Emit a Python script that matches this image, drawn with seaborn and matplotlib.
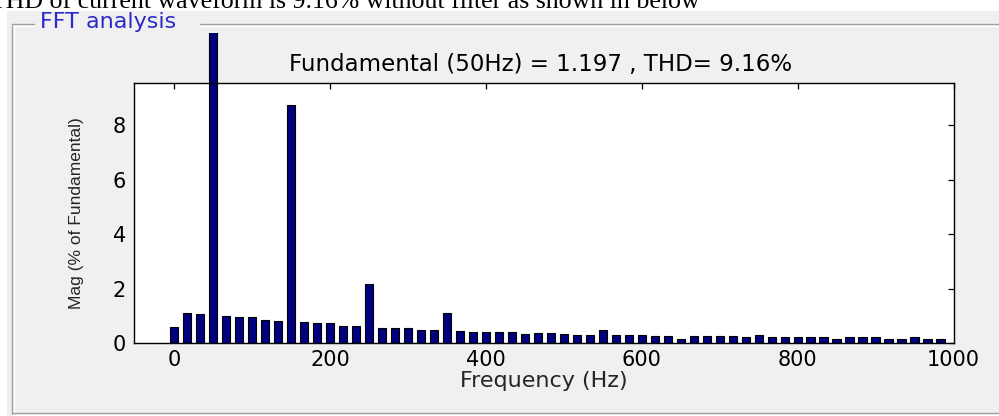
import matplotlib
matplotlib.use("Agg")
import matplotlib.pyplot as plt
from matplotlib.patches import Rectangle
from matplotlib.lines import Line2D
import seaborn as sns
import pandas as pd

# ---- data ----
freq_hz = [0, 16.67, 33.33, 50, 66.67, 83.33, 100, 116.67, 133.33, 150,
           166.67, 183.33, 200, 216.67, 233.33, 250, 266.67, 283.33, 300, 316.67,
           333.33, 350, 366.67, 383.33, 400, 416.67, 433.33, 450, 466.67, 483.33,
           500, 516.67, 533.33, 550, 566.67, 583.33, 600, 616.67, 633.33, 650,
           666.67, 683.33, 700, 716.67, 733.33, 750, 766.67, 783.33, 800, 816.67,
           833.33, 850, 866.67, 883.33, 900, 916.67, 933.33, 950, 966.67, 983.33]
mag_pct = [0.60, 1.10, 1.06, 100.0, 1.01, 0.97, 0.97, 0.87, 0.83, 8.72,
           0.78, 0.74, 0.74, 0.65, 0.65, 2.18, 0.55, 0.55, 0.55, 0.50,
           0.50, 1.10, 0.45, 0.41, 0.41, 0.41, 0.41, 0.33, 0.37, 0.36,
           0.35, 0.31, 0.31, 0.49, 0.31, 0.31, 0.31, 0.27, 0.27, 0.17,
           0.27, 0.27, 0.27, 0.25, 0.23, 0.32, 0.23, 0.23, 0.23, 0.23,
           0.23, 0.17, 0.23, 0.23, 0.23, 0.17, 0.17, 0.23, 0.17, 0.17]
x_ticks = [0, 200, 400, 600, 800, 1000]
y_ticks = [0, 2, 4, 6, 8]
title_text = "Fundamental (50Hz) = 1.197 , THD= 9.16%"
panel_label = "FFT analysis"
caption = "THD of current waveform is 9.16% without filter as shown in below"
x_label = "Frequency (Hz)"
y_label = "Mag (% of Fundamental)"

df = pd.DataFrame({"freq": freq_hz, "mag": mag_pct})

sns.set_style("white")
plt.rcParams["font.family"] = ["DejaVu Sans"]

W, H = 999, 416
fig = plt.figure(figsize=(W / 100, H / 100), dpi=100)
fig.patch.set_facecolor("white")

def fx(px):
    return px / W

def fy(py):
    return 1 - py / H

# panel background and groove
fig.patches.append(Rectangle((fx(7), 0), 1 - fx(7), fy(11), transform=fig.transFigure,
                             facecolor="#f0f0f0", edgecolor="none", zorder=-2))
groove = "#a0a0a0"
for (xs, ys, c) in [
    ([12, 12], [24, 414], groove), ([13.5, 13.5], [25, 413], "white"),
    ([12, 34], [24, 24], groove), ([13, 34], [25.5, 25.5], "white"),
    ([200, 999], [24, 24], groove), ([200, 999], [25.5, 25.5], "white"),
    ([12, 999], [413, 413], groove), ([12, 999], [414.5, 414.5], "white"),
]:
    fig.lines.append(Line2D([fx(v) for v in xs], [fy(v) for v in ys], color=c, lw=1.0,
                            transform=fig.transFigure, zorder=-1))

fig.text(fx(40), fy(22.5), panel_label, color="#2a2acc", fontsize=16,
         ha="left", va="center", family=["DejaVu Sans"])
fig.text(fx(700), fy(7.5), caption, color="black", fontsize=18.6, ha="right",
         va="baseline", family=["Liberation Serif"])

# axes
left_px, right_px, top_px, bottom_px = 134.3, 953.5, 82.7, 343.3
ax = fig.add_axes([fx(left_px), fy(bottom_px), fx(right_px - left_px), (bottom_px - top_px) / H])
ax.set_zorder(2)
ax.set_facecolor("white")

sns.barplot(data=df, x="freq", y="mag", native_scale=True, width=0.64,
            color="#00007f", edgecolor="black", linewidth=0.8, saturation=1,
            errorbar=None, ax=ax)

ax.set_xlim(-51.3, 1000)
ax.set_ylim(0, 9.55)
ax.set_xticks(x_ticks)
ax.set_xticklabels([str(v) for v in x_ticks])
ax.set_yticks(y_ticks)
ax.set_yticklabels([str(v) for v in y_ticks])
ax.tick_params(direction="in", length=4, width=0.9, top=True, right=True,
               labelsize=15, colors="black")
ax.tick_params(axis="x", pad=5)
ax.tick_params(axis="y", pad=6)
for s in ax.spines.values():
    s.set_visible(True)
    s.set_color("black")
    s.set_linewidth(1.0)

ax.set_xlabel(x_label, fontsize=16, family=["DejaVu Sans"])
ax.set_ylabel(y_label, fontsize=12.5, family=["Liberation Sans"])
ax.xaxis.set_label_coords(0.5, (bottom_px - 381) / (bottom_px - top_px))
ax.xaxis.label.set_va("center")
ax.yaxis.set_label_coords((76.7 - left_px) / (right_px - left_px), 0.5)
ax.yaxis.label.set_va("center")

# let the tall fundamental bar rise above the axes until the panel edge
clip = Rectangle((fx(left_px), fy(bottom_px)), fx(right_px - left_px), fy(33) - fy(bottom_px),
                 transform=fig.transFigure)
for p in ax.patches:
    p.set_clip_path(clip)

fig.text(fx(541), fy(65), title_text, fontsize=16.5, ha="center", va="center",
         color="black")

fig.savefig("out.png", dpi=100, facecolor=fig.get_facecolor())
